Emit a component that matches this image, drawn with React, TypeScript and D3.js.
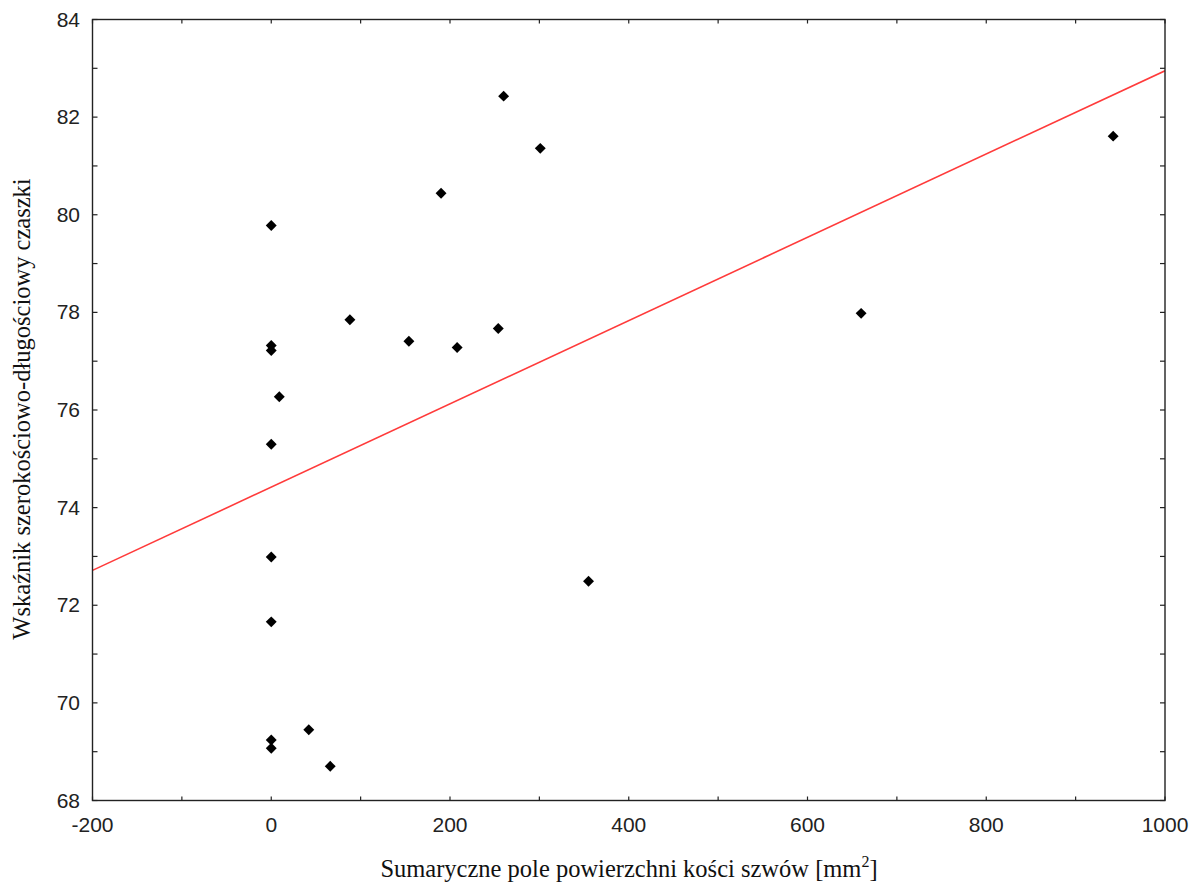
import React from "react";
import * as d3 from "d3";

const xValues = [0, 0, 0, 9, 0, 0, 0, 0, 0, 42, 66, 88, 154, 190, 208, 254, 260, 301, 355, 660, 942];
const yValues = [79.78, 77.32, 77.22, 76.27, 75.3, 72.99, 71.66, 69.24, 69.07, 69.45, 68.7, 77.85, 77.41, 80.44, 77.28, 77.67, 82.43, 81.36, 72.49, 77.98, 81.61];
const fitIntercept = 74.42;
const fitSlope = 0.00853;
const xTickLabels = [-200, 0, 200, 400, 600, 800, 1000];
const yTickLabels = [68, 70, 72, 74, 76, 78, 80, 82, 84];
const xMinorTicks = d3.range(-200, 1001, 100);
const yMinorTicks = d3.range(68, 84.01, 1);
const xTitle = "Sumaryczne pole powierzchni kości szwów [mm";
const yTitle = "Wskaźnik szerokościowo-długościowy czaszki";

const W = 1195, H = 883;
const L = 92.5, R = 1165, T = 19.5, B = 800.5;

export default function App() {
  const x = d3.scaleLinear().domain([-200, 1000]).range([L, R]);
  const y = d3.scaleLinear().domain([68, 84]).range([B, T]);
  const diamond = d3.symbol().type(d3.symbolDiamond2).size(76)();
  const axisColor = "#222";
  const tickFont = "'Liberation Sans', Arial, sans-serif";
  const titleFont = "'Liberation Serif', 'Times New Roman', serif";
  const fit = (v: number) => fitIntercept + fitSlope * v;

  return (
    <svg width={W} height={H} style={{ position: "absolute", left: 0, top: 0, background: "#fff" }}>
      <defs>
        <clipPath id="plot">
          <rect x={L} y={T} width={R - L} height={B - T} />
        </clipPath>
      </defs>
      {/* regression line */}
      <line
        x1={x(-200)} y1={y(fit(-200))} x2={x(1000)} y2={y(fit(1000))}
        stroke="#ff3b3b" strokeWidth={1.6} clipPath="url(#plot)"
      />
      {/* points */}
      {xValues.map((xv, i) => (
        <path key={i} d={diamond!} transform={`translate(${x(xv)},${y(yValues[i])})`} fill="#000" />
      ))}
      {/* frame */}
      <rect x={L} y={T} width={R - L} height={B - T} fill="none" stroke={axisColor} strokeWidth={1.4} />
      {/* ticks */}
      {xMinorTicks.map((t) => (
        <g key={"xt" + t}>
          <line x1={x(t)} x2={x(t)} y1={B} y2={B - 4} stroke={axisColor} strokeWidth={1.2} />
          <line x1={x(t)} x2={x(t)} y1={T} y2={T + 4} stroke={axisColor} strokeWidth={1.2} />
        </g>
      ))}
      {yMinorTicks.map((t) => (
        <g key={"yt" + t}>
          <line x1={L} x2={L + 5} y1={y(t)} y2={y(t)} stroke={axisColor} strokeWidth={1.2} />
          <line x1={R} x2={R - 5} y1={y(t)} y2={y(t)} stroke={axisColor} strokeWidth={1.2} />
        </g>
      ))}
      {/* tick labels */}
      {xTickLabels.map((t) => (
        <text key={"xl" + t} x={x(t)} y={832} textAnchor="middle" fontFamily={tickFont} fontSize={21} fill="#222">
          {t}
        </text>
      ))}
      {yTickLabels.map((t) => (
        <text key={"yl" + t} x={80} y={y(t) + 7} textAnchor="end" fontFamily={tickFont} fontSize={21} fill="#222">
          {t}
        </text>
      ))}
      {/* titles */}
      <text x={629} y={877} textAnchor="middle" fontFamily={titleFont} fontSize={24.5} fill="#111">
        {xTitle}
        <tspan fontSize={16} dy={-10}>2</tspan>
        <tspan dy={10}>]</tspan>
      </text>
      <text
        transform={`translate(30,409) rotate(-90)`}
        textAnchor="middle" fontFamily={titleFont} fontSize={24.5} fill="#111"
      >
        {yTitle}
      </text>
    </svg>
  );
}
